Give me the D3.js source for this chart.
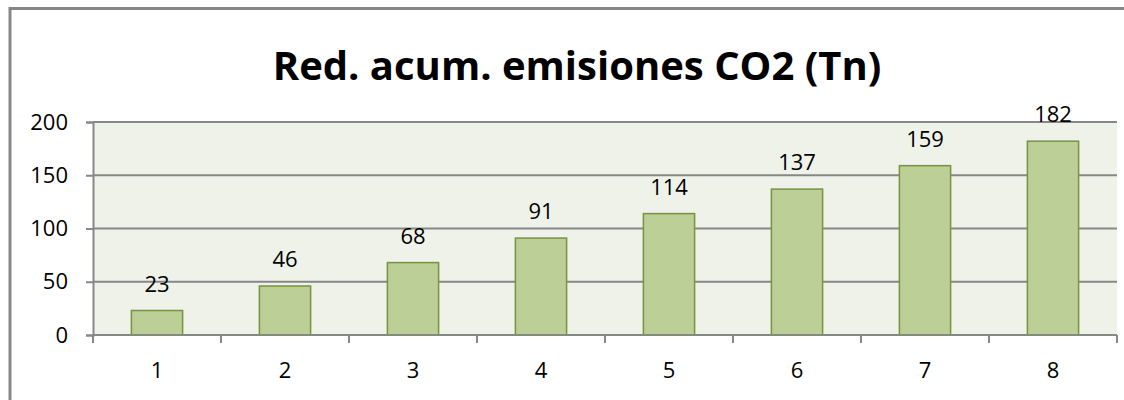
<!DOCTYPE html>
<html>
<head>
<meta charset="utf-8">
<script src="https://cdn.jsdelivr.net/npm/d3@7"></script>
<style>
  html, body { margin: 0; padding: 0; background: #fff; }
  svg { display: block; font-family: "Open Sans", sans-serif; }
  .tick text { fill: #000; }
</style>
</head>
<body>
<svg id="chart" width="1124" height="400"></svg>
<script>
// Chart data.
const title = 'Red. acum. emisiones CO2 (Tn)';
const categories = ['1', '2', '3', '4', '5', '6', '7', '8'];
const values = [23, 46, 68, 91, 114, 137, 159, 182];
const yTicks = [0, 50, 100, 150, 200];

const svg = d3.select('#chart');

// Plot area in pixels.
const plot = { left: 93, right: 1117, top: 122, bottom: 335 };

const x = d3.scaleBand().domain(categories).range([plot.left, plot.right]).paddingInner(0.6).paddingOuter(0.3);
const xBand = d3.scaleBand().domain(categories).range([plot.left, plot.right]);
const y = d3.scaleLinear().domain([0, 200]).range([plot.bottom, plot.top]);

// Outer chart frame (cut off at right and bottom in the reference).
svg.append('rect')
  .attr('x', 10).attr('y', 8.5)
  .attr('width', 1140).attr('height', 420)
  .attr('fill', '#fff').attr('stroke', '#878787').attr('stroke-width', 3);

// Title
svg.append('text')
  .attr('x', 577).attr('y', 80)
  .attr('text-anchor', 'middle')
  .attr('font-weight', 'bold')
  .attr('font-size', 40)
  .attr('fill', '#000')
  .text(title);

// Plot background
svg.append('rect')
  .attr('x', plot.left).attr('y', plot.top)
  .attr('width', plot.right - plot.left).attr('height', plot.bottom - plot.top)
  .attr('fill', '#eff2e9');

// Horizontal gridlines
svg.append('g').selectAll('line')
  .data(yTicks.filter((d) => d > 0))
  .join('line')
  .attr('x1', plot.left).attr('x2', plot.right)
  .attr('y1', (d) => y(d)).attr('y2', (d) => y(d))
  .attr('stroke', '#878787').attr('stroke-width', 2);

// Bars
svg.append('g').selectAll('rect')
  .data(values)
  .join('rect')
  .attr('x', (d, i) => x(categories[i]))
  .attr('y', (d) => y(d))
  .attr('width', x.bandwidth())
  .attr('height', (d) => plot.bottom - y(d))
  .attr('fill', '#bbcf96')
  .attr('stroke', '#77933c')
  .attr('stroke-width', 1.5);

// Data labels
svg.append('g').selectAll('text')
  .data(values)
  .join('text')
  .attr('x', (d, i) => x(categories[i]) + x.bandwidth() / 2)
  .attr('y', (d) => y(d) - 19)
  .attr('text-anchor', 'middle')
  .attr('font-size', 22)
  .attr('fill', '#000')
  .text((d) => d);

// Y axis
const yAxis = svg.append('g')
  .attr('transform', `translate(${plot.left},0)`)
  .call(d3.axisLeft(y).tickValues(yTicks).tickSize(7).tickPadding(18));
yAxis.selectAll('line, path').attr('stroke', '#878787').attr('stroke-width', 2);
yAxis.selectAll('text').attr('font-size', 22).attr('font-family', '"Open Sans", sans-serif');

// X axis: ticks sit at the band boundaries, labels centred in each band
const xAxis = svg.append('g')
  .attr('transform', `translate(0,${plot.bottom})`);
xAxis.append('line')
  .attr('x1', plot.left).attr('x2', plot.right)
  .attr('stroke', '#878787').attr('stroke-width', 2);
const bounds = categories.map((c) => xBand(c)).concat([plot.right]);
xAxis.selectAll('line.tk')
  .data(bounds)
  .join('line')
  .attr('class', 'tk')
  .attr('x1', (d) => d).attr('x2', (d) => d)
  .attr('y1', 0).attr('y2', 8)
  .attr('stroke', '#878787').attr('stroke-width', 2);
xAxis.selectAll('text')
  .data(categories)
  .join('text')
  .attr('x', (d) => xBand(d) + xBand.bandwidth() / 2)
  .attr('y', 43)
  .attr('text-anchor', 'middle')
  .attr('font-size', 22)
  .attr('fill', '#000')
  .text((d) => d);
</script>
</body>
</html>
